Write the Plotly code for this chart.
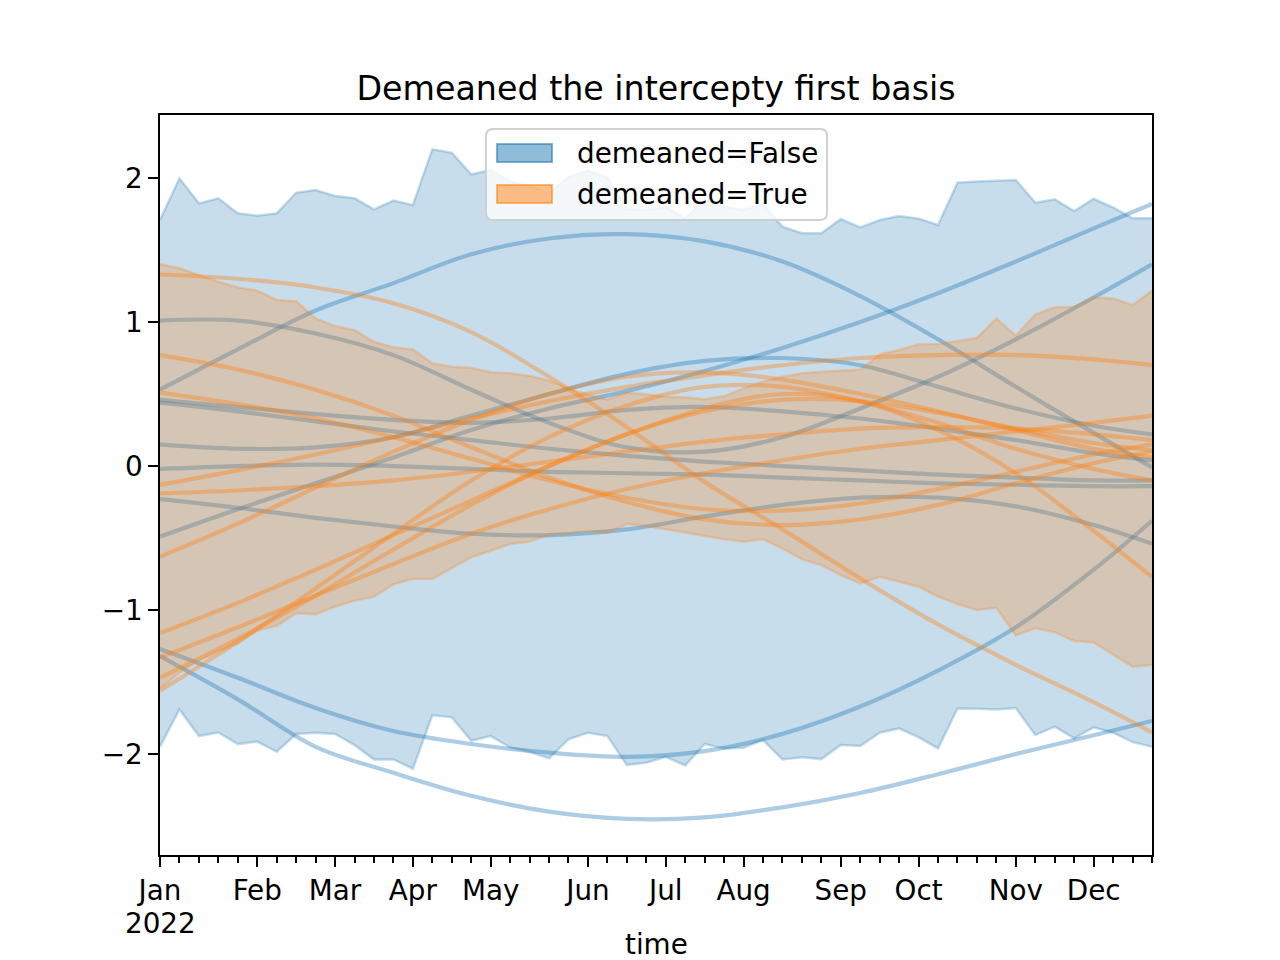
import plotly.graph_objects as go
import pandas as pd

# weekly time axis (Mondays)
weeks = pd.date_range("2022-01-03", periods=52, freq="7D")
tick_idx = [0, 5, 9, 13, 17, 22, 26, 30, 35, 39, 44, 48]
tick_labels = ["Jan", "Feb", "Mar", "Apr", "May", "Jun", "Jul", "Aug", "Sep", "Oct", "Nov", "Dec"]
year_label = "2022"

# demeaned=False band
blue_upper = [1.708, 1.998, 1.824, 1.859, 1.755, 1.738, 1.755, 1.898, 1.917, 1.875, 1.859, 1.782, 1.843, 1.812,
              2.199, 2.176, 2.025, 2.056, 1.976, 1.946, 1.89, 2.01, 2.05, 2.005, 1.784, 1.78, 1.80, 1.72,
              1.85, 1.80, 1.78, 1.82, 1.662, 1.616, 1.616, 1.715, 1.657, 1.708, 1.736, 1.718, 1.674, 1.968,
              1.975, 1.979, 1.986, 1.829, 1.852, 1.771, 1.856, 1.796, 1.720, 1.720]
blue_lower = [-1.949, -1.690, -1.875, -1.850, -1.931, -1.914, -1.984, -1.861, -1.852, -1.861, -1.938, -2.037,
              -2.037, -2.102, -1.731, -1.745, -1.908, -1.875, -1.954, -1.984, -2.030, -1.898, -1.852, -1.875,
              -2.076, -2.060, -2.019, -2.079, -1.931, -1.961, -1.956, -1.903, -2.037, -2.023, -2.035, -1.938,
              -1.944, -1.852, -1.822, -1.884, -1.961, -1.683, -1.685, -1.690, -1.681, -1.868, -1.810, -1.891,
              -1.815, -1.852, -1.917, -1.949]
# demeaned=True band
orange_upper = [1.403, 1.373, 1.326, 1.280, 1.241, 1.218, 1.153, 1.144, 1.025, 0.972, 0.944, 0.863, 0.824, 0.810,
                0.713, 0.690, 0.683, 0.652, 0.644, 0.627, 0.593, 0.539, 0.493, 0.463, 0.509, 0.498, 0.481, 0.477,
                0.463, 0.486, 0.539, 0.586, 0.620, 0.644, 0.655, 0.662, 0.671, 0.775, 0.806, 0.845, 0.847, 0.868,
                0.891, 1.025, 0.905, 1.053, 1.102, 1.106, 1.171, 1.164, 1.118, 1.218]
orange_lower = [-1.544, -1.435, -1.354, -1.289, -1.231, -1.144, -1.109, -1.023, -1.030, -0.977, -0.935, -0.907,
                -0.822, -0.785, -0.785, -0.711, -0.634, -0.588, -0.542, -0.525, -0.479, -0.468, -0.449, -0.463,
                -0.403, -0.417, -0.440, -0.468, -0.491, -0.509, -0.525, -0.509, -0.572, -0.648, -0.688, -0.757,
                -0.815, -0.769, -0.803, -0.838, -0.907, -0.958, -1.000, -0.984, -1.176, -1.127, -1.155, -1.215,
                -1.225, -1.308, -1.394, -1.382]

# sample curves, read every 4 weeks (plus last week)
curve_idx = [0, 4, 8, 12, 16, 20, 24, 28, 32, 36, 40, 44, 48, 51]
blue_curves = [
    [0.53, 0.81, 1.08, 1.27, 1.47, 1.58, 1.61, 1.56, 1.42, 1.18, 0.88, 0.55, 0.23, -0.01],
    [1.01, 1.01, 0.92, 0.77, 0.53, 0.30, 0.13, 0.10, 0.20, 0.40, 0.62, 0.88, 1.17, 1.40],
    [0.46, 0.41, 0.36, 0.32, 0.30, 0.33, 0.39, 0.41, 0.38, 0.33, 0.26, 0.18, 0.09, 0.04],
    [0.44, 0.38, 0.31, 0.24, 0.18, 0.12, 0.07, 0.03, 0.00, -0.03, -0.06, -0.08, -0.10, -0.10],
    [0.15, 0.12, 0.13, 0.20, 0.35, 0.50, 0.64, 0.73, 0.75, 0.70, 0.55, 0.40, 0.28, 0.22],
    [-0.02, 0.00, 0.01, 0.00, -0.02, -0.04, -0.05, -0.06, -0.08, -0.10, -0.12, -0.13, -0.14, -0.14],
    [-0.23, -0.29, -0.36, -0.42, -0.47, -0.48, -0.44, -0.35, -0.27, -0.22, -0.22, -0.28, -0.41, -0.54],
    [-0.49, -0.30, -0.12, 0.06, 0.25, 0.40, 0.52, 0.66, 0.82, 1.00, 1.20, 1.42, 1.65, 1.82],
    [-1.27, -1.47, -1.68, -1.84, -1.93, -1.99, -2.02, -1.98, -1.86, -1.67, -1.42, -1.12, -0.72, -0.38],
    [-1.32, -1.62, -1.95, -2.13, -2.29, -2.40, -2.45, -2.44, -2.37, -2.27, -2.14, -2.00, -1.87, -1.77],
]
orange_curves = [
    [1.33, 1.30, 1.24, 1.13, 0.93, 0.62, 0.27, -0.11, -0.44, -0.78, -1.10, -1.38, -1.64, -1.85],
    [0.77, 0.67, 0.53, 0.35, 0.13, -0.08, -0.25, -0.37, -0.41, -0.37, -0.27, -0.12, 0.02, 0.10],
    [0.51, 0.43, 0.33, 0.20, 0.05, -0.10, -0.22, -0.30, -0.31, -0.26, -0.16, -0.04, 0.08, 0.15],
    [-0.13, -0.03, 0.08, 0.20, 0.33, 0.45, 0.55, 0.63, 0.70, 0.75, 0.77, 0.77, 0.74, 0.70],
    [-0.19, -0.17, -0.14, -0.10, -0.04, 0.03, 0.10, 0.17, 0.22, 0.26, 0.27, 0.26, 0.22, 0.18],
    [-0.63, -0.40, -0.15, 0.10, 0.32, 0.50, 0.62, 0.65, 0.60, 0.50, 0.38, 0.25, 0.12, 0.06],
    [-1.16, -0.95, -0.72, -0.48, -0.24, 0.00, 0.22, 0.40, 0.50, 0.45, 0.25, -0.05, -0.45, -0.77],
    [-1.33, -1.12, -0.90, -0.68, -0.47, -0.30, -0.16, -0.05, 0.04, 0.12, 0.18, 0.24, 0.30, 0.35],
    [-1.47, -1.20, -0.90, -0.58, -0.27, 0.00, 0.22, 0.38, 0.46, 0.45, 0.37, 0.26, 0.16, 0.11],
    [-1.56, -1.22, -0.85, -0.47, -0.10, 0.20, 0.42, 0.55, 0.55, 0.45, 0.30, 0.12, -0.02, -0.10],
]

BLUE = "31,119,180"
ORANGE = "255,127,14"
FILL_A = 0.25
LINE_A = 0.37
FONT = "DejaVu Sans"

# plot area in pixels (matplotlib default subplot box)
PX_L, PX_R, PX_T, PX_B = 160, 1152, 115, 855


def px(xp):
    return (xp - PX_L) / (PX_R - PX_L)


def py(yp):
    return (PX_B - yp) / (PX_B - PX_T)


fig = go.Figure()
curve_x = [weeks[i] for i in curve_idx]


def add_group(upper, lower, curves, rgb):
    fig.add_trace(go.Scatter(x=weeks, y=lower, mode="lines", showlegend=False, hoverinfo="skip",
                             line=dict(color=f"rgba({rgb},{FILL_A})", width=2.5)))
    fig.add_trace(go.Scatter(x=weeks, y=upper, mode="lines", showlegend=False, hoverinfo="skip",
                             fill="tonexty", fillcolor=f"rgba({rgb},{FILL_A})",
                             line=dict(color=f"rgba({rgb},{FILL_A})", width=2.5)))
    for c in curves:
        fig.add_trace(go.Scatter(x=curve_x, y=c, mode="lines", showlegend=False, hoverinfo="skip",
                                 line=dict(color=f"rgba({rgb},{LINE_A})", width=4.2, shape="spline")))


add_group(blue_upper, blue_lower, blue_curves, BLUE)
add_group(orange_upper, orange_lower, orange_curves, ORANGE)

# legend drawn as shapes + text (matplotlib style)
x0, x1, yb, yt = px(486), px(827), py(220), py(129)
rx, ry = 7 / 992, 7 / 740
box_path = (f"M {x0+rx},{yt} L {x1-rx},{yt} Q {x1},{yt} {x1},{yt-ry} L {x1},{yb+ry} Q {x1},{yb} {x1-rx},{yb} "
            f"L {x0+rx},{yb} Q {x0},{yb} {x0},{yb+ry} L {x0},{yt-ry} Q {x0},{yt} {x0+rx},{yt} Z")
shapes = [dict(type="path", path=box_path, xref="paper", yref="paper",
               fillcolor="rgba(255,255,255,0.8)", line=dict(color="rgba(204,204,204,0.9)", width=2))]
legend_names = ["demeaned=False", "demeaned=True"]
legend_rgb = [BLUE, ORANGE]
legend_rows = [(144, 162, 153), (185, 203, 194)]
annotations = []
for name, rgb, (ya, yb2, yc) in zip(legend_names, legend_rgb, legend_rows):
    shapes.append(dict(type="rect", xref="paper", yref="paper", x0=px(497), x1=px(552), y0=py(yb2), y1=py(ya),
                       fillcolor=f"rgba({rgb},0.5)", line=dict(color=f"rgba({rgb},0.55)", width=2)))
    annotations.append(dict(text=name, xref="paper", yref="paper", x=px(575), y=py(yc), xanchor="left",
                            yanchor="middle", showarrow=False, font=dict(size=27.8, color="black")))

annotations.append(dict(text=year_label, xref="x", yref="paper", x=weeks[0], y=py(923), xanchor="center",
                        yanchor="middle", showarrow=False, font=dict(size=27.8, color="black")))
annotations.append(dict(text="time", xref="paper", yref="paper", x=0.5, y=py(963), xanchor="center",
                        yanchor="bottom", showarrow=False, font=dict(size=27.8, color="black")))

fig.update_layout(
    width=1280, height=960, autosize=False,
    margin=dict(l=160, r=128, t=115, b=105),
    paper_bgcolor="white", plot_bgcolor="white",
    font=dict(family=FONT, size=27.8, color="black"),
    showlegend=False,
    title=dict(text="Demeaned the intercepty first basis", x=0.5, xref="paper", xanchor="center",
               y=1 - 88 / 960, yref="container", yanchor="middle", font=dict(size=33.3)),
    xaxis=dict(
        type="date", range=[weeks[0], weeks[-1]], showgrid=False, zeroline=False,
        showline=True, linecolor="black", linewidth=2.2, mirror=True,
        tickmode="array", tickvals=[weeks[i] for i in tick_idx], ticktext=tick_labels,
        ticks="outside", ticklen=9.7, tickwidth=2.2, tickcolor="black",
        minor=dict(ticks="outside", ticklen=5.6, tickwidth=1.7, tickcolor="black",
                   dtick=7 * 86400000, tick0=weeks[0], showgrid=False),
        tickfont=dict(size=27.8),
    ),
    yaxis=dict(
        range=[-2.701, 2.4375], showgrid=False, zeroline=False,
        showline=True, linecolor="black", linewidth=2.2, mirror=True,
        tickmode="array", tickvals=[-2, -1, 0, 1, 2], ticktext=["\u22122", "\u22121", "0", "1", "2"],
        ticks="outside", ticklen=9.7, tickwidth=2.2, tickcolor="black",
        tickfont=dict(size=27.8),
    ),
    shapes=shapes,
    annotations=annotations,
)

fig.write_html("out.html", config={"displayModeBar": False},
               post_script="document.body.style.margin='0';")
